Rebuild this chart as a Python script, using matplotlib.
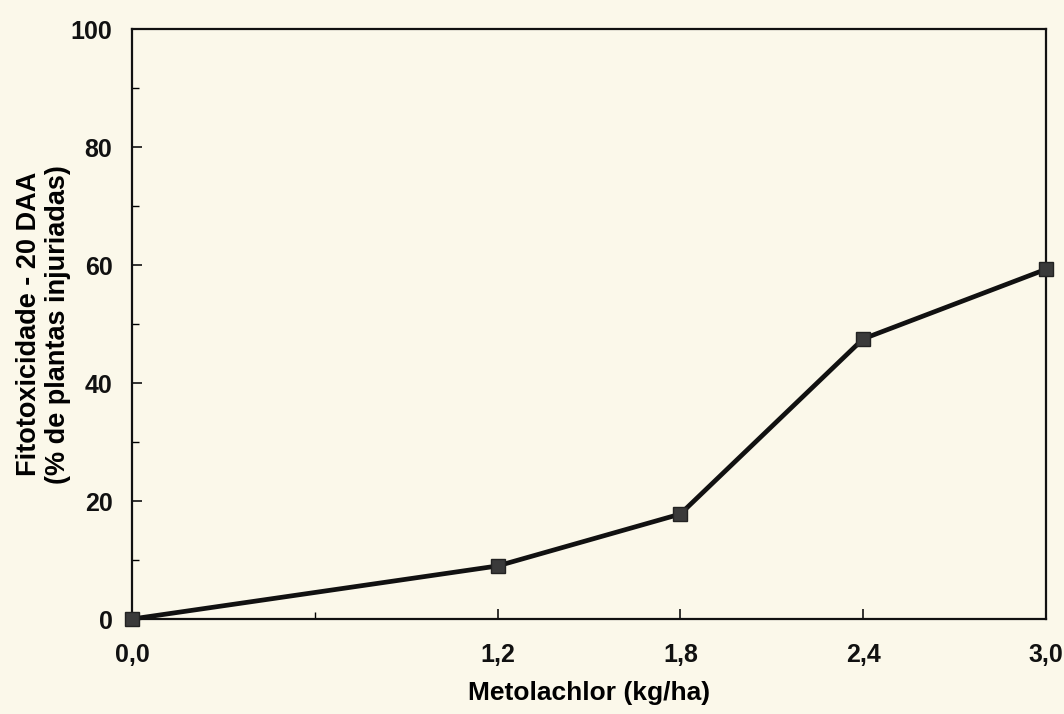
import matplotlib.pyplot as plt
from matplotlib.ticker import FixedLocator, MultipleLocator

plt.rcParams["font.family"] = ["Liberation Sans", "DejaVu Sans"]
plt.rcParams["font.weight"] = "bold"

dose = [0.0, 1.2, 1.8, 2.4, 3.0]
fito = [0.0, 9.0, 17.8, 47.5, 59.3]
xtick_vals = [0.0, 1.2, 1.8, 2.4, 3.0]
xtick_labels = ["0,0", "1,2", "1,8", "2,4", "3,0"]

paper = "#fbf8ea"

fig = plt.figure(figsize=(10.64, 7.14), dpi=100, facecolor=paper)
ax = fig.add_axes([0.124, 0.133, 0.859, 0.826])
ax.set_facecolor(paper)

ax.plot(dose, fito, color="#111111", linewidth=3.4, marker="s",
        markersize=10, markerfacecolor="#3a3a3a", markeredgecolor="#222222",
        clip_on=False, zorder=3)

ax.set_xlim(0, 3.0)
ax.set_ylim(0, 100)
ax.xaxis.set_major_locator(FixedLocator(xtick_vals))
ax.set_xticklabels(xtick_labels)
ax.xaxis.set_minor_locator(FixedLocator([0.6]))
ax.yaxis.set_major_locator(MultipleLocator(20))
ax.yaxis.set_minor_locator(MultipleLocator(10))

ax.tick_params(which="major", direction="in", length=7, width=1.2,
               labelsize=18, colors="#111111")
ax.tick_params(axis="x", which="major", pad=17)
ax.tick_params(axis="y", which="major", pad=14)
ax.tick_params(which="minor", direction="in", length=5, width=1.0)
for lab in ax.get_xticklabels() + ax.get_yticklabels():
    lab.set_fontweight("bold")

for sp in ax.spines.values():
    sp.set_linewidth(1.6)
    sp.set_color("#111111")

ax.set_xlabel("Metolachlor (kg/ha)", fontsize=19, fontweight="bold", labelpad=10)
ax.set_ylabel("Fitotoxicidade - 20 DAA\n(% de plantas injuriadas)",
              fontsize=19.5, fontweight="bold", labelpad=0, linespacing=1.15)

fig.savefig("out.png", dpi=100, facecolor=paper)
